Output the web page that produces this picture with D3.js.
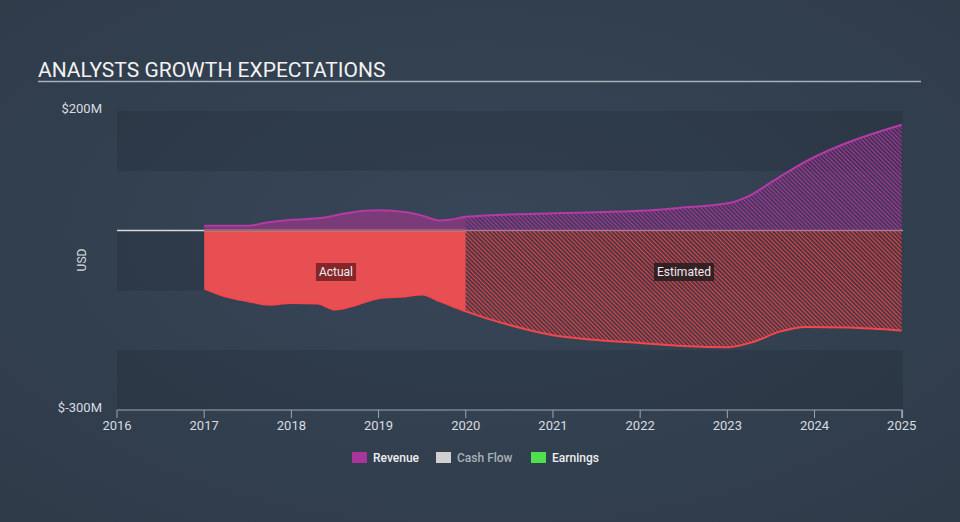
<!DOCTYPE html>
<html><head><meta charset="utf-8">
<script src="https://cdn.jsdelivr.net/npm/d3@7"></script>
<style>body{margin:0;background:#333f4f;}svg{display:block;font-family:Roboto,"Open Sans",sans-serif;}</style>
</head><body>
<svg id="c" width="960" height="522"></svg>
<script>
const yTicks = [200, -300];
const xTickYears = [2016,2017,2018,2019,2020,2021,2022,2023,2024,2025];
const revenueDates = [2017.0,2017.5,2017.7,2018.0,2018.33,2018.63,2018.84,2019.01,2019.3,2019.5,2019.7,2019.81,2020.0,2021.0,2022.0,2022.45,2023.02,2023.22,2023.6,2023.97,2024.36,2025.0];
const revenueValues = [8,8,13,18,21,29,33,34,31,25,17,18,23,29,33,38,46,56,90,121,146,177];
const earningsDates = [2017.0,2017.2,2017.5,2017.75,2018.0,2018.3,2018.5,2018.75,2019.0,2019.3,2019.5,2019.7,2020.0,2020.5,2021.0,2021.5,2022.0,2022.5,2023.0,2023.3,2023.6,2023.9,2024.4,2025.0];
const earningsValues = [-97,-108,-118,-124,-121,-122,-132,-124,-113,-110,-107,-118,-135,-158,-175,-183,-188,-193,-195,-186,-169,-161,-162,-167];
const splitYear = 2020.0;
const legendItems = ["Revenue","Cash Flow","Earnings"];

const svg = d3.select("#c");
const W=960,H=522;
const defs = svg.append("defs");
const rg = defs.append("radialGradient").attr("id","bg").attr("cx","50%").attr("cy","45%").attr("r","70%");
rg.append("stop").attr("offset","0%").attr("stop-color","#374658");
rg.append("stop").attr("offset","100%").attr("stop-color","#2f3b49");
svg.append("rect").attr("width",W).attr("height",H).attr("fill","url(#bg)");

const x = d3.scaleLinear().domain([2016,2025.01]).range([117,902.6]);
const y = d3.scaleLinear().domain([-300,200]).range([410,111]);

// bands
const bands=[[200,100],[0,-100],[-200,-300]];
svg.append("g").selectAll("rect").data(bands).join("rect")
  .attr("x",x(2016)).attr("width",x(2025.01)-x(2016))
  .attr("y",d=>y(d[0])).attr("height",d=>y(d[1])-y(d[0]))
  .attr("fill","rgba(20,28,38,0.18)");

// patterns
function hatch(id,color,bg){
  const p=defs.append("pattern").attr("id",id).attr("patternUnits","userSpaceOnUse")
    .attr("width",3).attr("height",3).attr("patternTransform","rotate(-45)");
  p.append("rect").attr("width",3).attr("height",3).attr("fill",bg);
  p.append("rect").attr("width",1.3).attr("height",3).attr("fill",color);
}
hatch("hr","#d8464c","rgba(70,45,55,0.55)");
hatch("hm","#a6379c","rgba(60,45,75,0.45)");

const clipA=defs.append("clipPath").attr("id","ca");
clipA.append("rect").attr("x",0).attr("y",0).attr("width",x(splitYear)).attr("height",H);
const clipE=defs.append("clipPath").attr("id","ce");
clipE.append("rect").attr("x",x(splitYear)).attr("y",0).attr("width",W).attr("height",H);

const rev = revenueDates.map((d,i)=>[d,revenueValues[i]]);
const earn = earningsDates.map((d,i)=>[d,earningsValues[i]]);
const area = d3.area().x(d=>x(d[0])).y0(y(0)).y1(d=>y(d[1])).curve(d3.curveMonotoneX);
const line = d3.line().x(d=>x(d[0])).y(d=>y(d[1])).curve(d3.curveMonotoneX);

// actual
svg.append("path").datum(rev).attr("d",area).attr("fill","#7b3a78").attr("clip-path","url(#ca)");
svg.append("path").datum(earn).attr("d",area).attr("fill","#e84f52").attr("clip-path","url(#ca)");
// zero line
svg.append("line").attr("x1",x(2016)).attr("x2",x(2025.01)).attr("y1",y(0)).attr("y2",y(0))
  .attr("stroke","#d8d8d8").attr("stroke-width",1.5);
svg.append("line").attr("x1",x(2017)).attr("x2",x(splitYear)).attr("y1",y(0)).attr("y2",y(0))
  .attr("stroke","#9a6a6a").attr("stroke-width",1.5);
// estimated
svg.append("path").datum(rev).attr("d",area).attr("fill","url(#hm)").attr("clip-path","url(#ce)");
svg.append("path").datum(earn).attr("d",area).attr("fill","url(#hr)").attr("clip-path","url(#ce)");
// lines
svg.append("path").datum(rev).attr("d",line).attr("fill","none").attr("stroke","#b53aa5").attr("stroke-width",2);
svg.append("path").datum(earn).attr("d",line).attr("fill","none").attr("stroke","#f2474c").attr("stroke-width",2);

// labels
function tag(txt,cx,cy,fill){
  const g=svg.append("g");
  const t=g.append("text").attr("x",cx).attr("y",cy+4).attr("text-anchor","middle")
    .attr("font-size",12).attr("fill","#eeeeee").text(txt);
  const b=t.node().getBBox();
  g.insert("rect","text").attr("x",b.x-3).attr("y",cy-9).attr("width",b.width+6).attr("height",18).attr("fill",fill);
}
tag("Actual",336,272,"rgba(100,25,30,0.75)");
tag("Estimated",684,272,"rgba(40,28,32,0.85)");

// x axis
const xa = svg.append("g").attr("transform",`translate(0,${y(-300)})`);
xa.append("line").attr("x1",x(2016)).attr("x2",x(2025.01)).attr("stroke","#9aa6b4").attr("stroke-width",1);
xa.selectAll("line.t").data(xTickYears).join("line").attr("class","t")
  .attr("x1",d=>x(d)).attr("x2",d=>x(d)).attr("y1",0).attr("y2",8).attr("stroke","#9aa6b4");
xa.append("line").attr("x1",x(2025.01)).attr("x2",x(2025.01)).attr("y1",0).attr("y2",8).attr("stroke","#9aa6b4");
xa.selectAll("text").data(xTickYears).join("text")
  .attr("x",d=>x(d)).attr("y",20).attr("text-anchor","middle").attr("font-size",13)
  .attr("fill","#d8dce0").text(d=>d);

// y labels
svg.selectAll("text.yl").data(yTicks).join("text").attr("class","yl")
  .attr("x",102).attr("y",d=>y(d)+2).attr("text-anchor","end").attr("font-size",13)
  .attr("fill","#d8dce0").text(d=>d<0?`$-${-d}M`:`$${d}M`);
svg.append("text").attr("transform","translate(86,260) rotate(-90)").attr("text-anchor","middle")
  .attr("font-size",12).attr("fill","#d8dce0").text("USD");

// title
svg.append("text").attr("x",38).attr("y",77).attr("font-size",21).attr("fill","#f2f2f2").text("ANALYSTS GROWTH EXPECTATIONS");
svg.append("line").attr("x1",38).attr("x2",921).attr("y1",81.5).attr("y2",81.5).attr("stroke","#a7b0ba").attr("stroke-width",1.5);

// legend
const legColors=["#a8359a","#d0d0d0","#4fe04f"];
const legText=["#eeeeee","#a9b0b8","#eeeeee"];
const legX=[352,436,531];
const lg=svg.append("g");
legendItems.forEach((name,i)=>{
  lg.append("rect").attr("x",legX[i]).attr("y",452).attr("width",15).attr("height",11).attr("fill",legColors[i]);
  lg.append("text").attr("x",legX[i]+21).attr("y",462).attr("font-size",12).attr("font-weight",500)
    .attr("fill",legText[i]).text(name);
});
</script>
</body></html>
